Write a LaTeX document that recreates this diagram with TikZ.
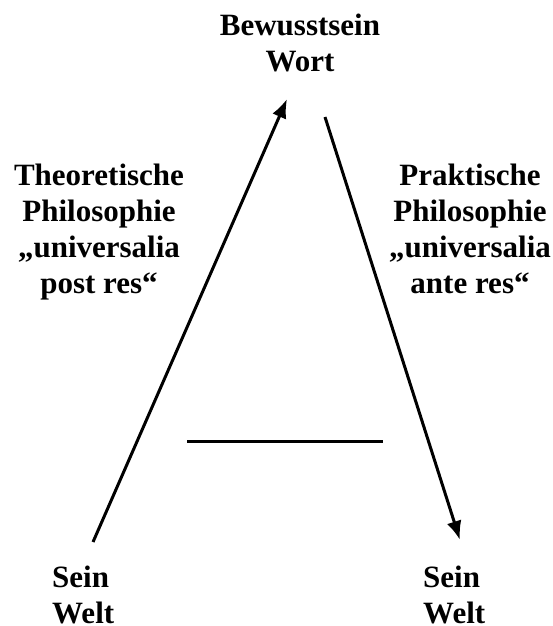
\documentclass[tikz,border=0pt]{standalone}
\usepackage{fontspec}
\setmainfont{Liberation Serif}
\usetikzlibrary{arrows.meta}

\begin{document}
\begin{tikzpicture}[x=1pt,y=-1pt,
  lbl/.style={inner sep=0pt,font=\fontsize{31}{36}\selectfont\bfseries},
  arr/.style={line width=3pt,-{Latex[length=19pt,width=15pt]}}]
\useasboundingbox (0,0) rectangle (553,626);

% labels
\node[lbl,align=center,anchor=north] (bw) at (300,14) {Bewusstsein\\Wort};
\node[lbl,align=center,anchor=north] (theo) at (99,164) {Theoretische\\Philosophie\\„universalia\\post res“};
\node[lbl,align=center,anchor=north] (prak) at (470,164) {Praktische\\Philosophie\\„universalia\\ante res“};
\node[lbl,align=left,anchor=north west] (swl) at (52,566) {Sein\\Welt};
\node[lbl,align=left,anchor=north west] (swr) at (423,566) {Sein\\Welt};

% arrow ends
\coordinate (lfoot) at (93,542);
\coordinate (ltip) at (287,99);
\coordinate (rtop) at (325,117);
\coordinate (rtip) at (460,540);

\draw[arr] (lfoot) -- (ltip);
\draw[arr] (rtop) -- (rtip);
\draw[line width=3pt] (187,441) -- (383,441);
\end{tikzpicture}
\end{document}
